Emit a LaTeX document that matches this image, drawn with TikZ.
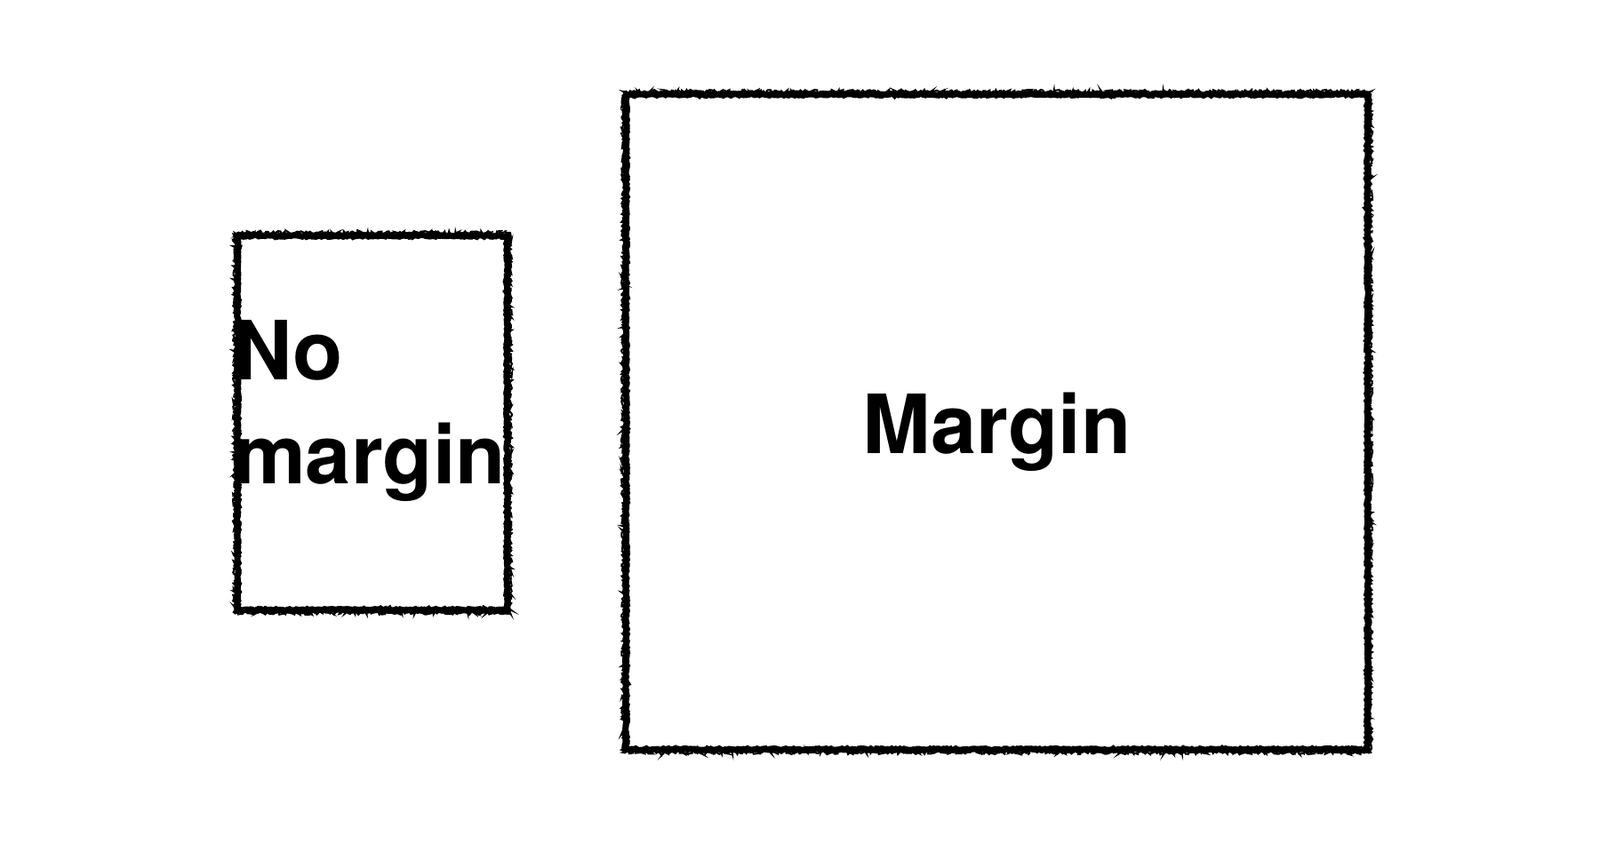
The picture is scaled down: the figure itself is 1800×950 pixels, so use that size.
\documentclass[tikz,border=0pt]{standalone}
\usepackage{fontspec}
\setmainfont{TeX Gyre Heros}
\usetikzlibrary{decorations.pathmorphing}
\tikzset{
  sketchbox/.style={draw=black, line width=7pt, inner sep=0pt, fill=none,
    decorate, decoration={random steps, segment length=2pt, amplitude=0.9pt}},
  sketchover/.style={draw=black, line width=2pt, inner sep=0pt, fill=none,
    decorate, decoration={random steps, segment length=1.5pt, amplitude=2pt}},
  bigtext/.style={font=\fontsize{92}{117}\selectfont\bfseries, inner sep=0pt, text=black}
}
\begin{document}
\begin{tikzpicture}[x=1pt,y=1pt]
\useasboundingbox[fill=white] (0,0) rectangle (1800,950);
% boxes
\node[sketchbox, minimum width=303pt, minimum height=421pt] (nobox) at (419,474) {};
\node[sketchbox, minimum width=834pt, minimum height=737pt] (mbox) at (1121.5,475) {};
\draw[sketchover] (nobox.north west) rectangle (nobox.south east);
\draw[sketchover] (mbox.north west) rectangle (mbox.south east);
% texts
\node[bigtext, anchor=base west] (notxt) at (262,522) {No};
\node[bigtext, anchor=base west] (margintxt) at (262,405) {margin};
\node[bigtext, anchor=base] (mtxt) at (1121.5,439) {Margin};
\end{tikzpicture}
\end{document}
